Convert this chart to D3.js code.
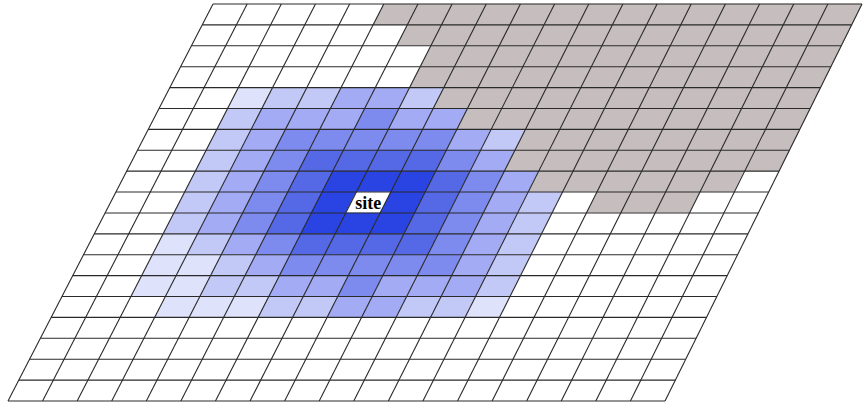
<!DOCTYPE html>
<html><head><meta charset="utf-8">
<script src="https://cdn.jsdelivr.net/npm/d3@7"></script>
<style>html,body{margin:0;padding:0;background:#fff;}</style>
</head><body><svg id="c" width="863" height="410"></svg>
<script>
// 19 x 19 cell grid, one string per row:
// '.' white, 'g' grey (excluded), '1'..'6' blue shade (1 = darkest), 's' = site
const rows = [
  ".....gggggggggggggg",
  "......ggggggggggggg",
  ".......gggggggggggg",
  ".......gggggggggggg",
  "..655445ggggggggggg",
  "..5444344gggggggggg",
  "..543333345gggggggg",
  "..543222234gggggggg",
  "..5432111234gggggg.",
  "..54321s12345.ggg..",
  "..54321112345......",
  "..65432222345......",
  "..66543333345......",
  "..66554434445......",
  "...6665544556......",
  "...................",
  "...................",
  "...................",
  "..................."
];
const levelKeys = [".", "g", "1", "2", "3", "4", "5", "6", "s"];
const levelColors = ["#ffffff", "#c6bebe", "#2a44e4", "#5568e6", "#7d8bee", "#a2abf3", "#c3c9f7", "#dfe2fb", "#ffffff"];
const siteLabel = "site";

const nC = 19, nR = 19;
const color = d3.scaleOrdinal().domain(levelKeys).range(levelColors);
const xTop = d3.scaleLinear().domain([0, nC]).range([213, 862]);
const xBot = d3.scaleLinear().domain([0, nC]).range([8, 665]);
const y = d3.scaleLinear().domain([0, nR]).range([4, 401]);
function pt(c, r) {
  const t = r / nR;
  return [xTop(c) + (xBot(c) - xTop(c)) * t, y(r)];
}
const svg = d3.select("#c");
const cells = [];
rows.forEach((s, r) => s.split("").forEach((k, c) => cells.push({r, c, k})));
const line = d3.line();
svg.append("g").selectAll("path").data(cells).join("path")
  .attr("d", d => line([pt(d.c, d.r), pt(d.c+1, d.r), pt(d.c+1, d.r+1), pt(d.c, d.r+1)]) + "Z")
  .attr("fill", d => color(d.k)).attr("stroke", d => color(d.k)).attr("stroke-width", 0.5);
const g = svg.append("g").attr("stroke", "#2a2a2a").attr("stroke-width", 1.1).attr("fill", "none");
d3.range(nR + 1).forEach(r => g.append("path").attr("d", line([pt(0, r), pt(nC, r)])));
d3.range(nC + 1).forEach(c => g.append("path").attr("d", line([pt(c, 0), pt(c, nR)])));
const site = cells.find(d => d.k === "s");
const ctr = pt(site.c + 0.5, site.r + 0.5);
svg.append("text").attr("x", ctr[0]).attr("y", ctr[1] + 6)
  .attr("text-anchor", "middle")
  .style("font-family", "'Liberation Serif', 'Times New Roman', serif")
  .style("font-weight", "bold").style("font-size", "18px").attr("fill", "#000").text(siteLabel);
</script></body></html>
